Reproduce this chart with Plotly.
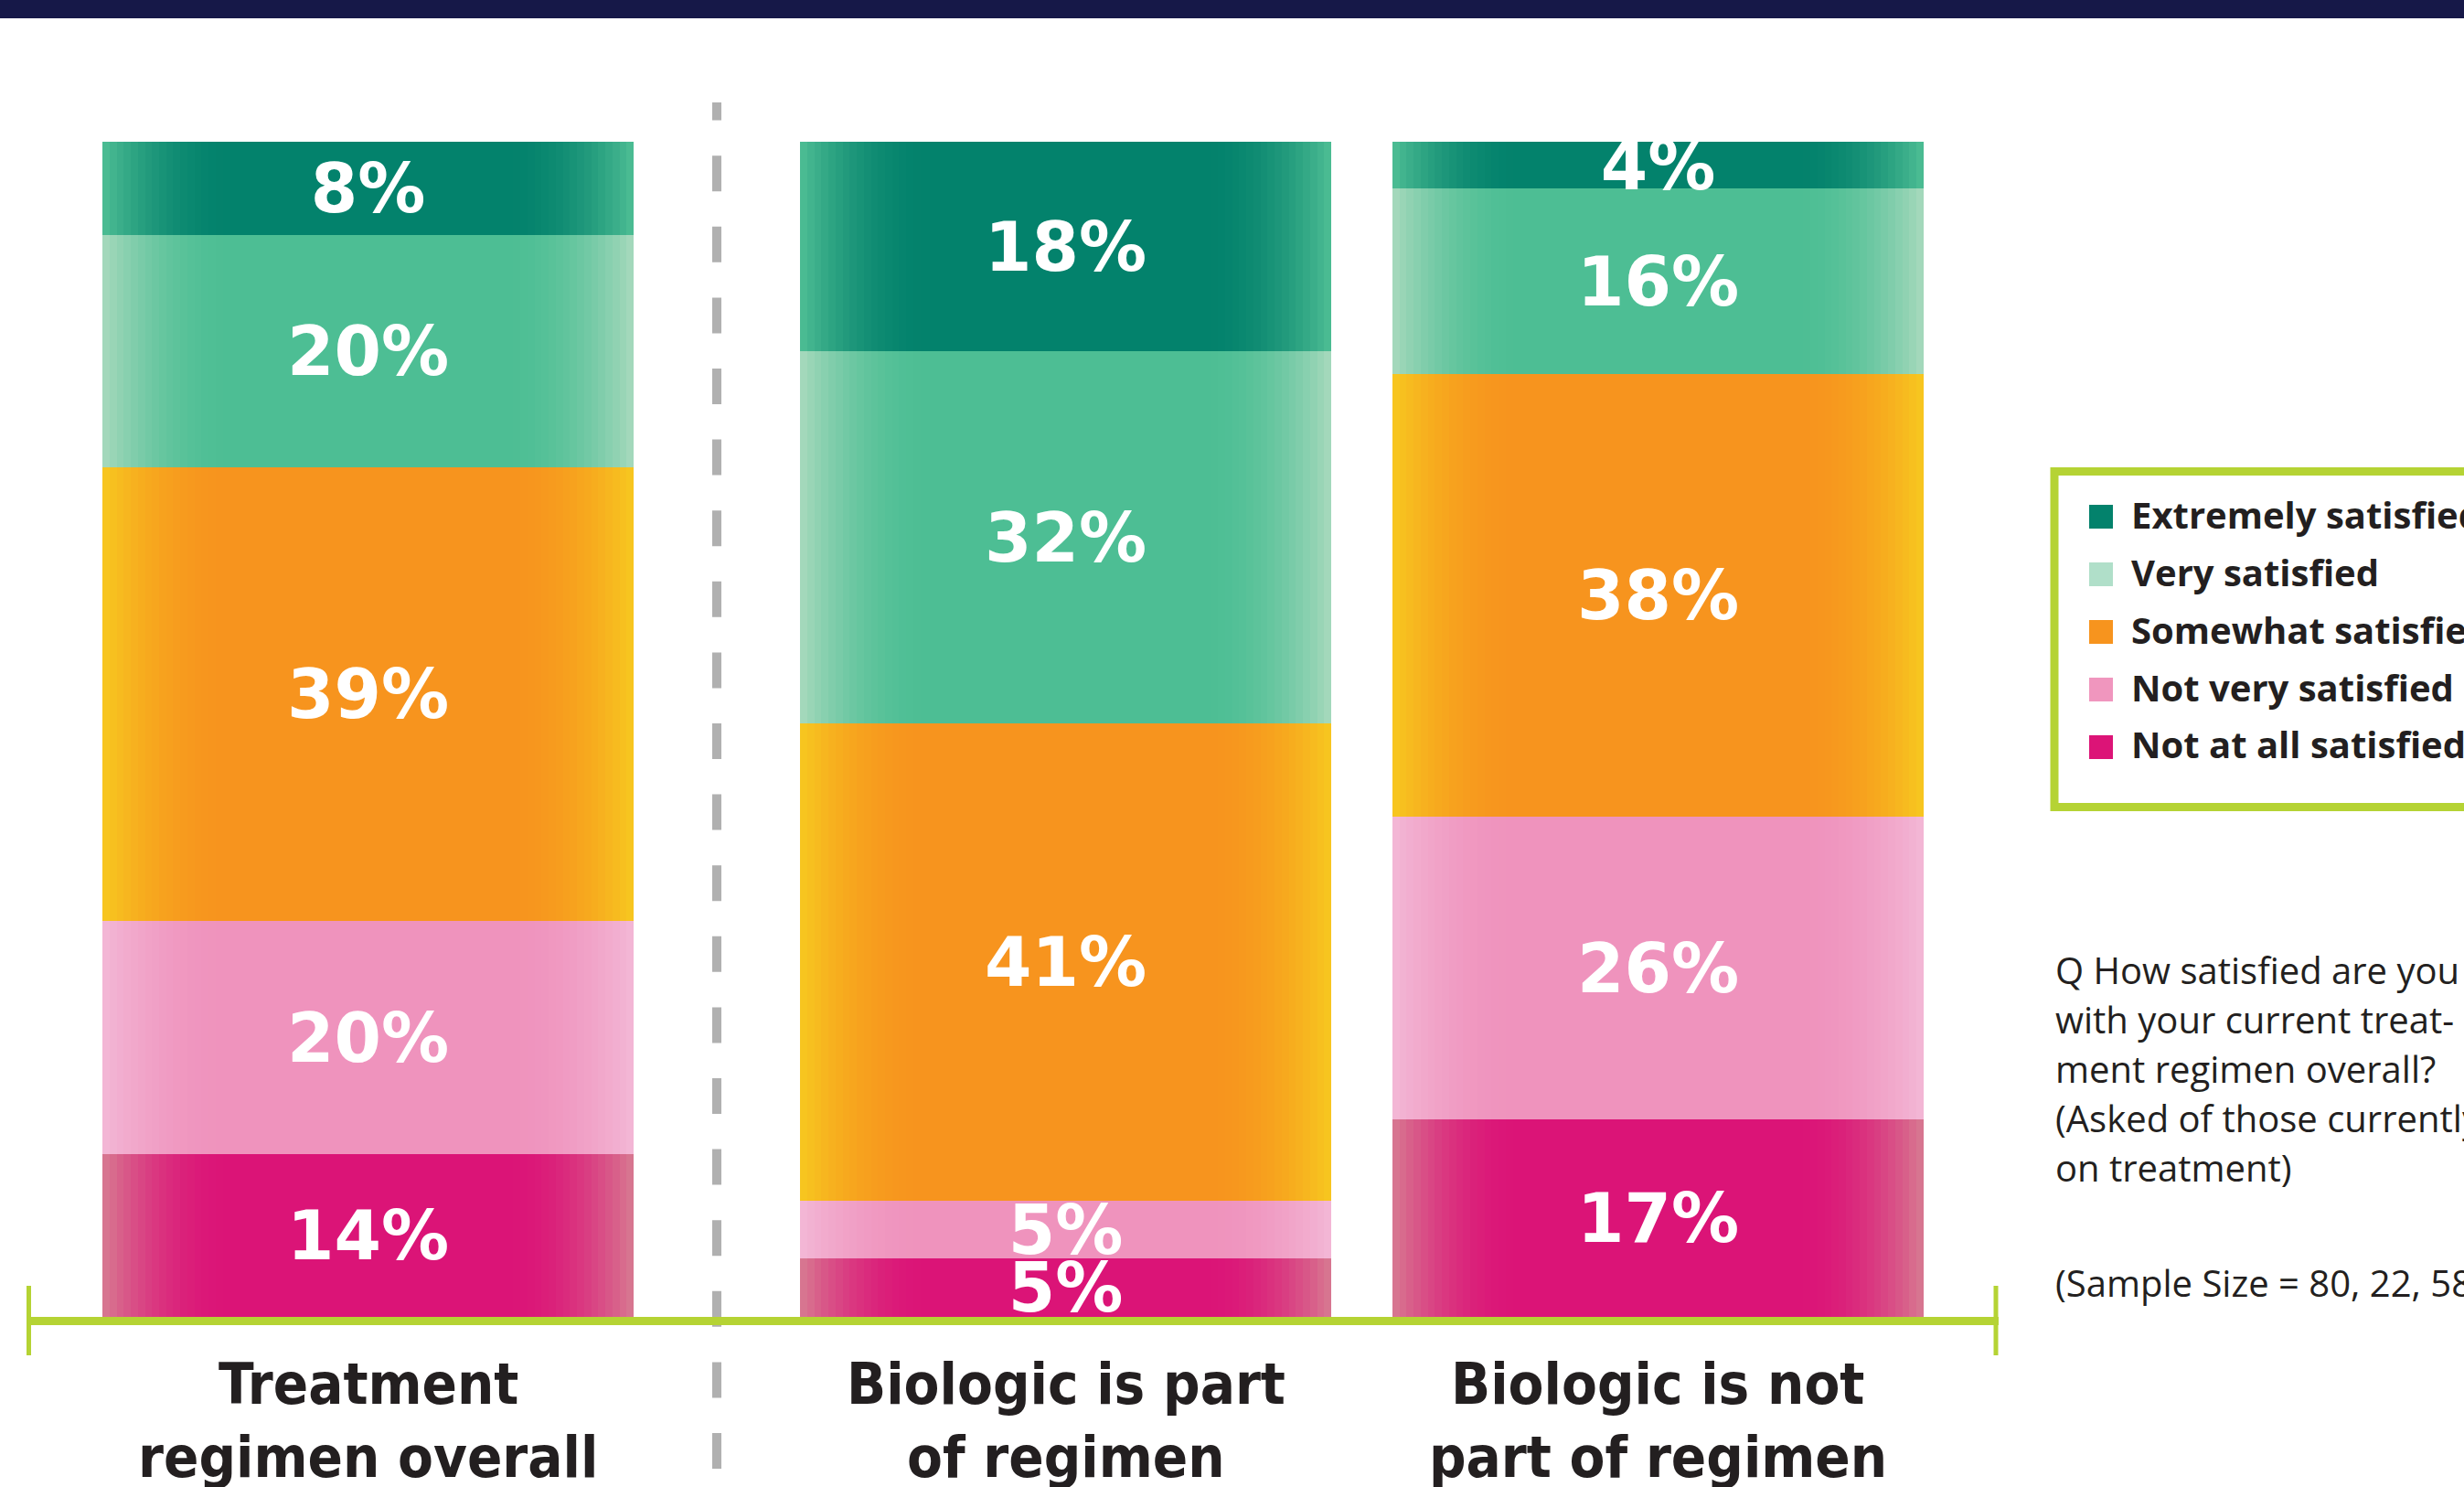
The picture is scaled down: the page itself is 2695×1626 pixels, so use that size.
import plotly.graph_objects as go

# ---------------- data ----------------
categories = ["Treatment regimen overall", "Biologic is part of regimen", "Biologic is not part of regimen"]
category_lines = [["Treatment", "regimen overall"],
                  ["Biologic is part", "of regimen"],
                  ["Biologic is not", "part of regimen"]]

# series listed bottom -> top of each stack
series_names = ["Not at all satisfied", "Not very satisfied", "Somewhat satisfied",
                "Very satisfied", "Extremely satisfied"]
not_at_all_satisfied = [14, 5, 17]
not_very_satisfied = [20, 5, 26]
somewhat_satisfied = [39, 41, 38]
very_satisfied = [20, 32, 16]
extremely_satisfied = [8, 18, 4]
series_values = [not_at_all_satisfied, not_very_satisfied, somewhat_satisfied,
                 very_satisfied, extremely_satisfied]

legend_order = ["Extremely satisfied", "Very satisfied", "Somewhat satisfied",
                "Not very satisfied", "Not at all satisfied"]

question_lines = ["Q How satisfied are you",
                  "with your current treat-",
                  "ment regimen overall?",
                  "(Asked of those currently",
                  "on treatment)"]
sample_note = "(Sample Size = 80, 22, 58)"

# ---------------- styles / layout constants ----------------
W, H = 2695, 1626
PLOT_TOP, PLOT_BOTTOM = 155, 1440          # pixel rows of the plot area
BAR_X = [0.0, 1.3133, 2.4285]               # bar centre positions (axis units)
BAR_W = 1.0
X_RANGE = [-0.6928, 3.9458]

# centre colour, edge colour (gradient), legend swatch colour
STYLE = {
    "Extremely satisfied": ("#03826C", "#4EBE94", "#03826C"),
    "Very satisfied": ("#4DBE94", "#A8D9BD", "#B0DFC9"),
    "Somewhat satisfied": ("#F7941E", "#F7C81F", "#F7941E"),
    "Not very satisfied": ("#EF93BD", "#F3B8D6", "#F096BE"),
    "Not at all satisfied": ("#DB1477", "#D77B91", "#DC1477"),
}
LIME = "#B5D334"
TEXT = "#231F20"
CAT_FONT = "DejaVu Sans Condensed, Liberation Sans Narrow, Liberation Sans"


def px_x(px):
    return px / W


def px_y(py):
    return (PLOT_BOTTOM - py) / (PLOT_BOTTOM - PLOT_TOP)


def hex2rgb(h):
    h = h.lstrip("#")
    return [int(h[i:i + 2], 16) for i in (0, 2, 4)]


def mix(c_edge, c_center, t):
    a, b = hex2rgb(c_edge), hex2rgb(c_center)
    r = [round(a[i] + (b[i] - a[i]) * t) for i in range(3)]
    return "rgb(%d,%d,%d)" % tuple(r)


def edge_strips(center, edge, n=18, frac=0.24, eps=0.003):
    step = frac * BAR_W / n
    offs, wids, cols = [], [], []
    for k in range(n):
        u = (k + 0.5) / n
        t = 1 - (1 - u) ** 2
        col = mix(edge, center, t)
        offs.append(-BAR_W / 2 + k * step)
        wids.append(step + eps)
        cols.append(col)
        offs.append(BAR_W / 2 - (k + 1) * step - eps)
        wids.append(step + eps)
        cols.append(col)
    return offs, wids, cols


fig = go.Figure()

totals = [sum(v) for v in zip(*series_values)]
y_top = max(totals)

bases = []
running = [0] * len(categories)
for vals in series_values:
    bases.append(list(running))
    running = [r + v for r, v in zip(running, vals)]

# main (solid) bars with labels
for name, vals, base in zip(series_names, series_values, bases):
    center, edge, _ = STYLE[name]
    fig.add_trace(go.Bar(
        name=name, x=BAR_X, y=vals, base=base,
        width=BAR_W, offset=-BAR_W / 2,
        marker=dict(color=center, line=dict(width=0)),
        text=[f"{v}%" for v in vals], textposition="inside",
        insidetextanchor="middle", textangle=0, constraintext="none",
        textfont=dict(family="DejaVu Sans", size=74, color="white", weight="bold"),
        cliponaxis=False, showlegend=False, hoverinfo="skip",
    ))

# gradient edges of each bar segment
for name, vals, base in zip(series_names, series_values, bases):
    center, edge, _ = STYLE[name]
    offs, wids, cols = edge_strips(center, edge)
    xs, ys, bs, os_, ws, cs = [], [], [], [], [], []
    for j in range(len(categories)):
        for o, w, c in zip(offs, wids, cols):
            xs.append(BAR_X[j]); ys.append(vals[j]); bs.append(base[j])
            os_.append(o); ws.append(w); cs.append(c)
    fig.add_trace(go.Bar(
        x=xs, y=ys, base=bs, offset=os_, width=ws,
        marker=dict(color=cs, line=dict(width=0)),
        showlegend=False, hoverinfo="skip", name=name + " shading",
    ))

shapes = []
# top navy band
shapes.append(dict(type="rect", xref="paper", yref="paper",
                   x0=0, x1=1, y0=px_y(0), y1=px_y(20),
                   fillcolor="#161848", line=dict(width=0), layer="above"))
# dashed separator
shapes.append(dict(type="line", xref="paper", yref="paper",
                   x0=px_x(784), x1=px_x(784), y0=px_y(1606), y1=px_y(112),
                   line=dict(color="#B0B0B0", width=10, dash="39px,38.6px"), layer="above"))
# baseline with end ticks
shapes.append(dict(type="line", xref="paper", yref="paper",
                   x0=px_x(29), x1=px_x(2186), y0=px_y(1444.5), y1=px_y(1444.5),
                   line=dict(color=LIME, width=9), layer="above"))
for tx in (31.5, 2183):
    shapes.append(dict(type="line", xref="paper", yref="paper",
                       x0=px_x(tx), x1=px_x(tx), y0=px_y(1406), y1=px_y(1482),
                       line=dict(color=LIME, width=5), layer="above"))
# legend frame
shapes.append(dict(type="rect", xref="paper", yref="paper",
                   x0=px_x(2247), x1=px_x(2800), y0=px_y(515.5), y1=px_y(882.5),
                   line=dict(color=LIME, width=9), fillcolor="rgba(0,0,0,0)", layer="above"))

annotations = []
# legend entries
for i, name in enumerate(legend_order):
    baseline = 578 + 63 * i
    shapes.append(dict(type="rect", xref="paper", yref="paper",
                       x0=px_x(2285), x1=px_x(2311), y0=px_y(baseline), y1=px_y(baseline - 26),
                       fillcolor=STYLE[name][2], line=dict(width=0), layer="above"))
    annotations.append(dict(xref="paper", yref="paper", x=px_x(2329), y=px_y(baseline - 16),
                            xanchor="left", yanchor="middle", showarrow=False, text=name,
                            font=dict(family="Open Sans", size=40, weight=700, color=TEXT)))

# category labels (two lines each)
xaxis_span = X_RANGE[1] - X_RANGE[0]
for j, lines in enumerate(category_lines):
    cx = (BAR_X[j] - X_RANGE[0]) / xaxis_span
    for k, line in enumerate(lines):
        baseline = 1535 + 80 * k
        annotations.append(dict(xref="paper", yref="paper", x=cx, y=px_y(baseline - 22),
                                xanchor="center", yanchor="middle", showarrow=False, text=line,
                                font=dict(family=CAT_FONT, size=63, weight=700, color=TEXT)))

# question text
for k, line in enumerate(question_lines):
    baseline = 1075 + 54 * k
    annotations.append(dict(xref="paper", yref="paper", x=px_x(2246), y=px_y(baseline - 15),
                            xanchor="left", yanchor="middle", showarrow=False, text=line,
                            font=dict(family="Open Sans", size=40, color=TEXT)))
annotations.append(dict(xref="paper", yref="paper", x=px_x(2246), y=px_y(1417 - 15),
                        xanchor="left", yanchor="middle", showarrow=False, text=sample_note,
                        font=dict(family="Open Sans", size=40, color=TEXT)))

fig.update_layout(
    width=W, height=H,
    margin=dict(l=0, r=0, t=PLOT_TOP, b=H - PLOT_BOTTOM, pad=0),
    paper_bgcolor="white", plot_bgcolor="white",
    barmode="overlay", bargap=0, showlegend=False, hovermode=False,
    xaxis=dict(range=X_RANGE, visible=False, fixedrange=True),
    yaxis=dict(range=[0, y_top], visible=False, fixedrange=True),
    shapes=shapes, annotations=annotations,
)

fig.write_html("out.html", config={"displayModeBar": False},
               post_script="document.body.style.margin='0';document.body.style.overflow='hidden';")
